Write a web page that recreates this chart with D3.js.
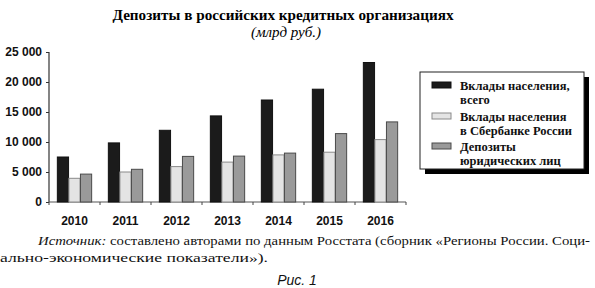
<!DOCTYPE html>
<html>
<head>
<meta charset="utf-8">
<script src="https://cdn.jsdelivr.net/npm/d3@7"></script>
<style>
  body { margin: 0; background: #fff; }
  svg { display: block; }
  .serif { font-family: "Liberation Serif", "DejaVu Serif", serif; }
  .tick text { font-family: "Liberation Sans", Arial, sans-serif; font-weight: bold; font-size: 12px; fill: #111; }
</style>
</head>
<body>
<div id="chart"></div>
<script>
// data
var years = ["2010", "2011", "2012", "2013", "2014", "2015", "2016"];
var seriesNames = ["total", "sber", "legal"];
var totalDeposits = [7500, 9850, 11950, 14350, 17000, 18800, 23250];
var sberDeposits = [3950, 5000, 5900, 6650, 7850, 8300, 10400];
var legalDeposits = [4650, 5450, 7600, 7650, 8150, 11400, 13350];
var yTicks = [0, 5000, 10000, 15000, 20000, 25000];
var legendLabels = [
  ["Вклады населения,", "всего"],
  ["Вклады населения", "в Сбербанке России"],
  ["Депозиты", "юридических лиц"]
];

var rows = years.map(function(y, i) {
  return { year: y, total: totalDeposits[i], sber: sberDeposits[i], legal: legalDeposits[i] };
});

var svgWidth = 595, svgHeight = 288;
var fills = { total: "#1b1b1b", sber: "#e4e4e4", legal: "#9a9a9a" };
var strokes = { total: "#111", sber: "#8a8a8a", legal: "#4a4a4a" };

var svg = d3.select("#chart").append("svg")
  .attr("width", svgWidth)
  .attr("height", svgHeight);

// title
svg.append("text")
  .attr("class", "serif")
  .attr("x", 283).attr("y", 20)
  .attr("text-anchor", "middle")
  .attr("textLength", 341).attr("lengthAdjust", "spacingAndGlyphs")
  .style("font-weight", "bold").style("font-size", "15.5px")
  .text("Депозиты в российских кредитных организациях");

svg.append("text")
  .attr("class", "serif")
  .attr("x", 286).attr("y", 37)
  .attr("text-anchor", "middle")
  .style("font-style", "italic").style("font-size", "15px")
  .text("(млрд руб.)");

// scales
var x0 = d3.scaleBand().domain(years).range([49, 406]).padding(0);
var x1 = d3.scaleBand().domain(seriesNames).range([8, 43]).padding(0.03);
var y = d3.scaleLinear().domain([0, 25000]).range([202, 52]);

// y axis
var yAxis = d3.axisLeft(y)
  .tickValues(yTicks)
  .tickSize(3)
  .tickPadding(4)
  .tickFormat(function(d) { return d3.format(",")(d).replace(",", " "); });

var yG = svg.append("g")
  .attr("transform", "translate(49,0)")
  .call(yAxis);
yG.select(".domain").attr("stroke", "#333").attr("stroke-width", 1.2).attr("d", "M0,52V202");
yG.selectAll(".tick line").attr("stroke", "#333");

// x axis
var xG = svg.append("g")
  .attr("transform", "translate(0,202)")
  .call(d3.axisBottom(x0).tickSize(0).tickPadding(14));
xG.select(".domain").attr("stroke", "#555").attr("stroke-width", 1.2).attr("d", "M49,0H406");

// boundary ticks
xG.selectAll("line.bound")
  .data(years.concat(["end"]))
  .enter().append("line")
  .attr("class", "bound")
  .attr("x1", function(d, i) { return i < years.length ? x0(d) : x0.range()[1]; })
  .attr("x2", function(d, i) { return i < years.length ? x0(d) : x0.range()[1]; })
  .attr("y1", 0).attr("y2", 3)
  .attr("stroke", "#444");

// bars
var groups = svg.selectAll("g.year")
  .data(rows)
  .enter().append("g")
  .attr("class", "year")
  .attr("transform", function(d) { return "translate(" + x0(d.year) + ",0)"; });

groups.selectAll("rect")
  .data(function(d) { return seriesNames.map(function(k) { return { key: k, value: d[k] }; }); })
  .enter().append("rect")
  .attr("x", function(d) { return x1(d.key); })
  .attr("y", function(d) { return y(d.value); })
  .attr("width", x1.bandwidth())
  .attr("height", function(d) { return 202 - y(d.value); })
  .attr("fill", function(d) { return fills[d.key]; })
  .attr("stroke", function(d) { return strokes[d.key]; })
  .attr("stroke-width", 1);

// legend
var legend = svg.append("g");
legend.append("rect")
  .attr("x", 425).attr("y", 77).attr("width", 164).attr("height", 97)
  .attr("fill", "#000");
legend.append("rect")
  .attr("x", 420).attr("y", 72).attr("width", 164).attr("height", 97)
  .attr("fill", "#fff").attr("stroke", "#222").attr("stroke-width", 1);

var entryY = [90, 121, 151];
seriesNames.forEach(function(k, i) {
  legend.append("rect")
    .attr("x", 432).attr("y", entryY[i] - 8)
    .attr("width", 19).attr("height", 6)
    .attr("fill", fills[k]).attr("stroke", strokes[k]);
  legendLabels[i].forEach(function(line, j) {
    legend.append("text")
      .attr("class", "serif")
      .attr("x", 460).attr("y", entryY[i] + j * 14)
      .style("font-weight", "bold").style("font-size", "12.5px")
      .attr("fill", "#111")
      .text(line);
  });
});

// source note
var note = svg.append("text")
  .attr("class", "serif")
  .attr("x", 38).attr("y", 245)
  .attr("textLength", 552).attr("lengthAdjust", "spacingAndGlyphs")
  .style("font-size", "13.5px").attr("fill", "#111");
note.append("tspan").style("font-style", "italic").text("Источник:");
note.append("tspan").text(" составлено авторами по данным Росстата (сборник «Регионы России. Соци-");

svg.append("text")
  .attr("class", "serif")
  .attr("x", 0).attr("y", 262)
  .attr("textLength", 268).attr("lengthAdjust", "spacingAndGlyphs")
  .style("font-size", "13.5px").attr("fill", "#111")
  .text("ально-экономические показатели»).");

svg.append("text")
  .attr("x", 297).attr("y", 285)
  .attr("text-anchor", "middle")
  .style("font-family", "'Liberation Sans', Arial, sans-serif")
  .style("font-style", "italic").style("font-size", "14px")
  .attr("fill", "#111")
  .text("Рис. 1");
</script>
</body>
</html>
